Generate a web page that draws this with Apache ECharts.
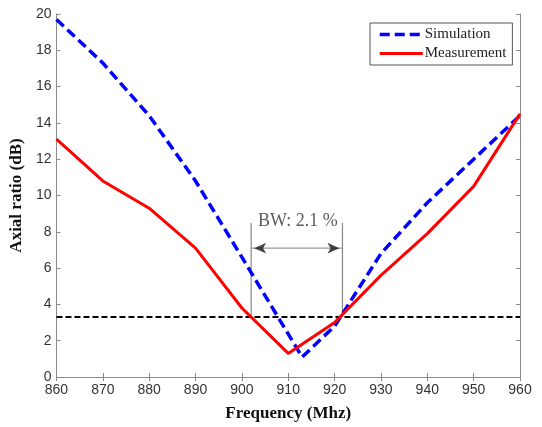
<!DOCTYPE html>
<html>
<head>
<meta charset="utf-8">
<script src="https://cdn.jsdelivr.net/npm/echarts@6/dist/echarts.min.js"></script>
<style>
  html, body { margin: 0; padding: 0; background: #fff; }
  #chart { width: 542px; height: 427px; }
</style>
</head>
<body>
<div id="chart"></div>
<script>
// Axial ratio versus frequency: simulated and measured curves
const simFreq = [860, 870, 880, 890, 900, 913, 920, 930, 940, 950, 960];
const simAR   = [19.7, 17.3, 14.4, 10.8, 6.6, 1.1, 2.8, 6.8, 9.6, 12.0, 14.4];

const measFreq = [860, 870, 880, 890, 900, 910, 920, 930, 940, 950, 960];
const measAR   = [13.1, 10.8, 9.3, 7.1, 3.8, 1.3, 3.0, 5.6, 7.9, 10.5, 14.5];

// axial-ratio threshold and the resulting bandwidth
const thresholdAR = 3.3;
const bwLow = 902;
const bwHigh = 921.7;
const bwLineTop = 8.5;
const bwArrowLevel = 7.1;
const bwLabel = 'BW: 2.1 %';
const bwLabelLevel = 8.1;

const xTicks = { min: 860, max: 960, interval: 10 };
const yTicks = { min: 0, max: 20, interval: 2 };

const pair = (xs, ys) => xs.map((x, i) => [x, ys[i]]);

const frame = '#8a8a8a';
const tickFont = { fontFamily: 'Liberation Sans', fontSize: 14, color: '#333' };
const nameFont = { fontFamily: 'Liberation Serif', fontSize: 17, fontWeight: 'bold', color: '#111' };

const chart = echarts.init(document.getElementById('chart'), null, { renderer: 'canvas' });

chart.setOption({
  animation: false,
  backgroundColor: '#fff',
  grid: { left: 54.5, right: 22, top: 14, bottom: 46.5 },
  legend: {
    data: ['Simulation', 'Measurement'],
    orient: 'vertical',
    left: 370,
    top: 23,
    padding: [4, 6, 4, 8],
    itemGap: 4,
    itemWidth: 43,
    itemHeight: 14,
    itemStyle: { opacity: 0 },
    lineStyle: { width: 'inherit' },
    borderColor: '#555',
    borderWidth: 1,
    backgroundColor: '#fff',
    textStyle: { fontFamily: 'Liberation Serif', fontSize: 15, color: '#222', padding: [0, 14, 0, -3] }
  },
  xAxis: [
    {
      type: 'value', ...xTicks,
      name: 'Frequency (Mhz)', nameLocation: 'middle', nameGap: 28,
      nameTextStyle: nameFont,
      axisLine: { lineStyle: { color: frame, width: 1 } },
      axisTick: { inside: true, length: 4, lineStyle: { color: frame } },
      axisLabel: { ...tickFont, margin: 6 },
      splitLine: { show: false }
    },
    {
      type: 'value', ...xTicks, position: 'top',
      axisLine: { lineStyle: { color: frame, width: 1 } },
      axisTick: { inside: true, length: 4, lineStyle: { color: frame } },
      axisLabel: { show: false },
      splitLine: { show: false }
    }
  ],
  yAxis: [
    {
      type: 'value', ...yTicks,
      name: 'Axial ratio (dB)', nameLocation: 'middle', nameGap: 28,
      nameTextStyle: nameFont,
      axisLine: { show: true, lineStyle: { color: frame, width: 1 } },
      axisTick: { show: true, inside: true, length: 4, lineStyle: { color: frame } },
      axisLabel: { ...tickFont, margin: 5 },
      splitLine: { show: false }
    },
    {
      type: 'value', ...yTicks, position: 'right',
      axisLine: { show: true, lineStyle: { color: frame, width: 1 } },
      axisTick: { show: true, inside: true, length: 4, lineStyle: { color: frame } },
      axisLabel: { show: false },
      splitLine: { show: false }
    }
  ],
  series: [
    {
      name: 'threshold',
      type: 'line',
      data: [[xTicks.min, thresholdAR], [xTicks.max, thresholdAR]],
      symbol: 'none',
      lineStyle: { color: '#000', width: 2, type: [6, 3] },
      z: 2
    },
    {
      name: 'bw-low',
      type: 'line',
      data: [[bwLow, thresholdAR], [bwLow, bwLineTop]],
      symbol: 'none',
      lineStyle: { color: '#888', width: 1.2 },
      z: 1
    },
    {
      name: 'bw-high',
      type: 'line',
      data: [[bwHigh, thresholdAR], [bwHigh, bwLineTop]],
      symbol: 'none',
      lineStyle: { color: '#888', width: 1.2 },
      z: 1
    },
    {
      // shaft of the bandwidth arrow
      name: 'bw-shaft',
      type: 'line',
      data: [[bwLow, bwArrowLevel], [bwHigh, bwArrowLevel]],
      symbol: 'none',
      lineStyle: { color: '#999', width: 1.2 },
      z: 3
    },
    {
      // arrow heads at both ends of the bandwidth span
      name: 'bw-heads',
      type: 'scatter',
      symbol: 'arrow',
      symbolSize: [8, 12],
      itemStyle: { color: '#1a1a1a' },
      data: [
        { value: [bwLow, bwArrowLevel], symbolRotate: 90, symbolOffset: [3, 0] },
        { value: [bwHigh, bwArrowLevel], symbolRotate: -90, symbolOffset: [-3, 0] }
      ],
      z: 4
    },
    {
      name: 'bw-text',
      type: 'scatter',
      data: [[(bwLow + bwHigh) / 2, bwLabelLevel]],
      symbolSize: 0,
      label: {
        show: true,
        position: 'top',
        distance: 0,
        offset: [1, 0],
        formatter: bwLabel,
        fontFamily: 'Liberation Serif',
        fontSize: 18,
        color: '#333'
      },
      z: 3
    },
    {
      name: 'Simulation',
      type: 'line',
      data: pair(simFreq, simAR),
      symbol: 'none',
      color: '#0000ff',
      lineStyle: { color: '#0000ff', width: 3.5, type: [10, 5] },
      z: 5
    },
    {
      name: 'Measurement',
      type: 'line',
      data: pair(measFreq, measAR),
      symbol: 'none',
      color: '#ff0000',
      lineStyle: { color: '#ff0000', width: 3 },
      z: 6
    }
  ]
});
</script>
</body>
</html>
